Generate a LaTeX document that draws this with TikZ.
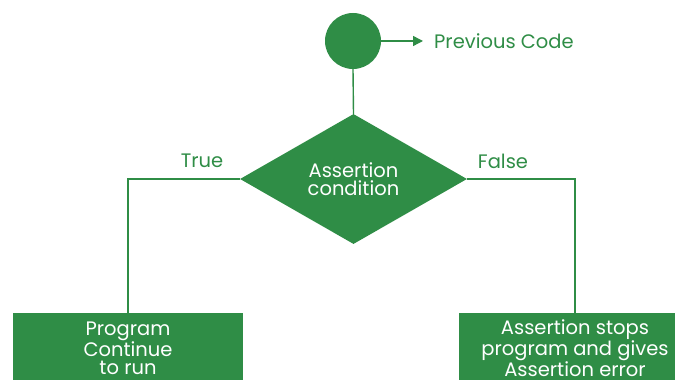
\documentclass[tikz,border=0pt]{standalone}
\usepackage{fontspec}
\setmainfont{Poppins}
\usepackage{tikz}
\usetikzlibrary{positioning,arrows.meta,shapes.geometric}
\definecolor{gfg}{HTML}{2F8D46}

\begin{document}
\begin{tikzpicture}[
    x=1pt, y=1pt,
    font=\fontsize{19.5}{18.2}\selectfont,
    startc/.style={circle, fill=gfg, minimum size=56pt, inner sep=0pt},
    cond/.style={diamond, fill=gfg, text=white, align=center,
      minimum width=227pt, minimum height=130pt, inner sep=0pt},
    blk/.style={rectangle, fill=gfg, text=white, align=center,
      minimum height=70pt, inner sep=0pt},
    lbl/.style={text=gfg, inner sep=1pt},
    line/.style={draw=gfg, line width=1.4pt},
    arr/.style={line, -{Triangle[length=10pt, width=10pt]}}
  ]
  \useasboundingbox (0,0) rectangle (675,380);

  \node[startc] (start) at (353,339) {};
  \node[lbl, anchor=west] (prev) at (433,339) {Previous Code};

  \node[cond] (check) at (353.5,201) {Assertion\\condition};

  \node[lbl] (tlbl) at (202,219) {True};
  \node[lbl] (flbl) at (503,219) {False};

  \node[blk, anchor=north, minimum width=230pt] (yes) at (128,67)
    {Program\\Continue\\to run};
  \node[blk, anchor=north, minimum width=232pt] (no) at (575,67)
    {Assertion stops\\program and gives\\Assertion error};

  \draw[arr, shorten >=10pt] (start.east) -- (prev.west);
  \draw[line] (start.south) -- (check.north);
  \draw[line] (check.west) -| (yes.north);
  \draw[line] (check.east) -| (no.north);
\end{tikzpicture}
\end{document}
